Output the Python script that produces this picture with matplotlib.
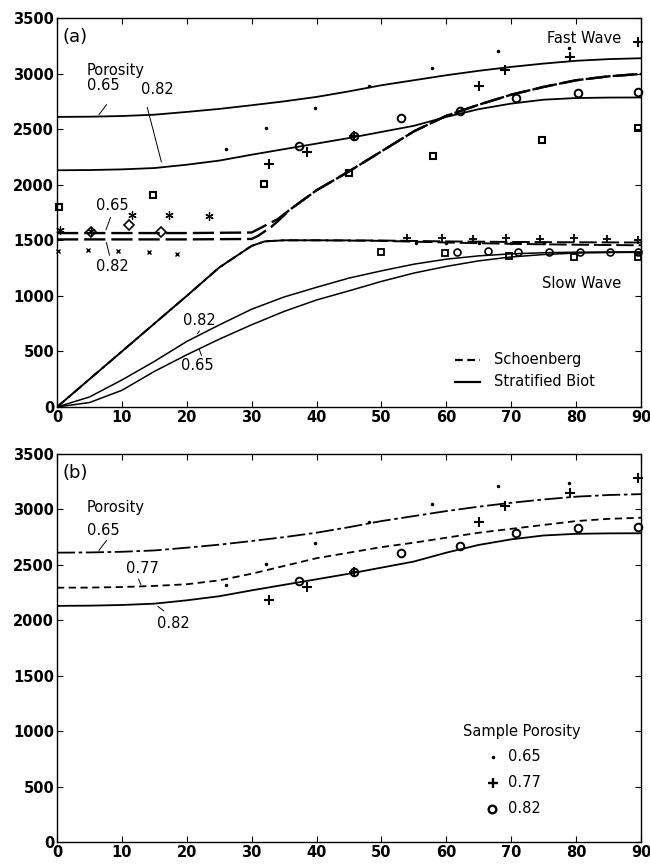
import matplotlib
matplotlib.use("Agg")
import matplotlib.pyplot as plt
import numpy as np

plt.rcParams['font.family'] = ['DejaVu Sans']

# ---------------- data ----------------
ang = [0, 5, 10, 15, 20, 25, 30, 35, 40, 45, 50, 55, 60, 65, 70, 75, 80, 85, 90]
biot_fast_065 = [2610, 2612, 2618, 2630, 2655, 2682, 2715, 2750, 2790, 2840, 2895, 2940, 2985, 3025, 3060, 3090, 3115, 3130, 3138]
biot_fast_082 = [2130, 2132, 2138, 2150, 2180, 2217, 2270, 2320, 2370, 2420, 2475, 2530, 2610, 2680, 2730, 2765, 2780, 2784, 2785]
biot_fast_077 = [2294, 2295, 2300, 2310, 2325, 2360, 2420, 2490, 2560, 2610, 2660, 2700, 2745, 2790, 2825, 2860, 2895, 2915, 2925]
biot_slow_082 = [0, 90, 243, 410, 590, 738, 880, 990, 1077, 1160, 1225, 1285, 1330, 1360, 1378, 1388, 1393, 1395, 1396]
biot_slow_065 = [0, 40, 150, 320, 470, 610, 740, 860, 963, 1045, 1130, 1205, 1265, 1315, 1350, 1372, 1385, 1390, 1392]

sch_ang = [0, 10, 20, 30, 31, 33, 34, 36, 40, 45, 50, 55, 60, 65, 70, 75, 80, 85, 90]
sch_fast_065 = [1565, 1565, 1565, 1570, 1600, 1660, 1690, 1780, 1950, 2120, 2300, 2480, 2620, 2720, 2810, 2880, 2940, 2975, 2997]
sch_fast_082 = [1508, 1508, 1508, 1512, 1540, 1620, 1670, 1780, 1950, 2120, 2300, 2480, 2620, 2720, 2810, 2880, 2940, 2975, 2997]
sch_slow_ang = [0, 10, 20, 25, 30, 32, 35, 40, 50, 60, 70, 80, 90]
sch_slow_065 = [0, 500, 1000, 1255, 1450, 1490, 1500, 1500, 1498, 1490, 1485, 1482, 1480]
sch_slow_082 = [0, 500, 1000, 1255, 1450, 1490, 1500, 1500, 1495, 1480, 1468, 1460, 1455]

# measured data (fast)
dot_x = [26, 32.2, 39.8, 48.1, 57.8, 67.9, 78.9]
dot_y = [2319, 2508, 2694, 2889, 3048, 3207, 3234]
plus_x = [32.6, 38.6, 45.8, 65, 69.1, 79.1, 89.6]
plus_y = [2184, 2298, 2439, 2889, 3033, 3147, 3288]
circ_x = [37.3, 45.8, 53, 62.1, 70.8, 80.3, 89.6]
circ_y = [2352, 2439, 2604, 2667, 2784, 2829, 2838]
sq_fast_x = [0.3, 14.8, 31.9, 45, 57.9, 74.8, 89.6]
sq_fast_y = [1803, 1908, 2007, 2103, 2259, 2403, 2508]

# measured data (slow / low angle)
sq_slow_x = [50, 59.8, 69.7, 79.7, 89.6]
sq_slow_y = [1398, 1383, 1359, 1353, 1353]
circ_slow_x = [61.7, 66.4, 71.1, 75.8, 80.6, 85.2, 89.6]
circ_slow_y = [1398, 1407, 1392, 1398, 1398, 1398, 1392]
plus_slow_x = [53.9, 59.4, 64.1, 69.2, 74.4, 79.6, 84.7, 89.6]
plus_slow_y = [1518, 1518, 1512, 1518, 1509, 1518, 1512, 1500]
dot_slow_x = [55.4, 60, 65, 70, 75]
dot_slow_y = [1473, 1478, 1480, 1478, 1480]
xm_x = [0.2, 4.8, 9.4, 14.2, 18.5]
xm_y = [1407, 1410, 1407, 1398, 1377]
ast_x = [0.4, 5.3, 11.6, 17.3, 23.5]
ast_y = [1593, 1587, 1725, 1725, 1722]
dia_x = [5.2, 11.1, 16]
dia_y = [1575, 1638, 1575]

xticks = [0, 10, 20, 30, 40, 50, 60, 70, 80, 90]
yticks = [0, 500, 1000, 1500, 2000, 2500, 3000, 3500]

# ---------------- figure ----------------
fig = plt.figure(figsize=(6.5, 8.65), dpi=100)
L, W = 57/650, 584/650
axa = fig.add_axes([L, 1-407/865, W, 389/865])
axb = fig.add_axes([L, 1-842/865, W, 388/865])


def style(ax):
    ax.set_xlim(0, 90)
    ax.set_ylim(0, 3500)
    ax.set_xticks(xticks)
    ax.set_yticks(yticks)
    ax.tick_params(direction='in', top=True, right=True, length=4, width=0.8,
                   labelsize=10.5, pad=2)
    for lab in ax.get_xticklabels() + ax.get_yticklabels():
        lab.set_fontweight('bold')
    for s in ax.spines.values():
        s.set_linewidth(1.0)


style(axa)
style(axb)

ms = dict(color='black', linestyle='none', clip_on=False)
k = 'black'

# ---- panel (a) ----
axa.plot(ang, biot_fast_065, color=k, lw=1.3)
axa.plot(ang, biot_fast_082, color=k, lw=1.3)
axa.plot(ang, biot_slow_065, color=k, lw=1.1)
axa.plot(ang, biot_slow_082, color=k, lw=1.1)
dsh = (0, (9, 2.5))
axa.plot(sch_ang, sch_fast_065, color=k, lw=1.7, linestyle=dsh)
axa.plot(sch_ang, sch_fast_082, color=k, lw=1.7, linestyle=dsh)
axa.plot(sch_slow_ang, sch_slow_065, color=k, lw=1.4, linestyle=dsh)
axa.plot(sch_slow_ang, sch_slow_082, color=k, lw=1.4, linestyle=(4, (9, 2.5)))

axa.plot(dot_x, dot_y, marker='.', markersize=3, **ms)
axa.plot(plus_x, plus_y, marker='+', markersize=6.5, mew=1.5, **ms)
axa.plot(circ_x, circ_y, marker='o', markersize=5.5, mfc='none', mew=1.4, **ms)
axa.plot(sq_fast_x, sq_fast_y, marker='s', markersize=5, mfc='none', mew=1.5, **ms)
axa.plot(sq_slow_x, sq_slow_y, marker='s', markersize=5, mfc='none', mew=1.3, **ms)
axa.plot(circ_slow_x, circ_slow_y, marker='o', markersize=5, mfc='none', mew=1.2, **ms)
axa.plot(plus_slow_x, plus_slow_y, marker='+', markersize=6, mew=1.3, **ms)
axa.plot(dot_slow_x, dot_slow_y, marker='.', markersize=3, **ms)
axa.plot(xm_x, xm_y, marker='x', markersize=3.5, mew=1.0, **ms)
axa.plot(ast_x, ast_y, marker=(6, 2, 0), markersize=6, mew=0.9, **ms)
axa.plot(dia_x, dia_y, marker='D', markersize=5.5, mfc='none', mew=1.2, **ms)

fs = 10.5
axa.text(0.9, 3330, '(a)', fontsize=13, va='center', ha='left')
axa.text(4.6, 3030, 'Porosity', fontsize=fs, va='center', ha='left')
axa.text(7.2, 2895, '0.65', fontsize=fs, va='center', ha='center')
axa.text(15.4, 2860, '0.82', fontsize=fs, va='center', ha='center')
axa.annotate('', xy=(6.2, 2610), xytext=(7.9, 2740),
             arrowprops=dict(arrowstyle='-', lw=0.7, color=k))
axa.annotate('', xy=(16.2, 2180), xytext=(13.8, 2720),
             arrowprops=dict(arrowstyle='-', lw=0.7, color=k))
axa.text(87.0, 3320, 'Fast Wave', fontsize=fs, va='center', ha='right')
axa.text(8.6, 1810, '0.65', fontsize=fs, va='center', ha='center')
axa.annotate('', xy=(7.4, 1570), xytext=(8.4, 1730),
             arrowprops=dict(arrowstyle='-', lw=0.7, color=k))
axa.text(8.5, 1265, '0.82', fontsize=fs, va='center', ha='center')
axa.annotate('', xy=(7.5, 1505), xytext=(8.2, 1340),
             arrowprops=dict(arrowstyle='-', lw=0.7, color=k))
axa.text(21.9, 780, '0.82', fontsize=fs, va='center', ha='center')
axa.annotate('', xy=(21.4, 640), xytext=(22.2, 705),
             arrowprops=dict(arrowstyle='-', lw=0.7, color=k))
axa.text(21.7, 370, '0.65', fontsize=fs, va='center', ha='center')
axa.annotate('', xy=(21.8, 540), xytext=(22.4, 440),
             arrowprops=dict(arrowstyle='-', lw=0.7, color=k))
axa.text(87.0, 1110, 'Slow Wave', fontsize=fs, va='center', ha='right')

# legend (a)
axa.plot([61.3, 65.2], [425, 425], color=k, lw=1.6, linestyle=(0, (3.5, 2)))
axa.plot([61.3, 65.2], [225, 225], color=k, lw=1.6)
axa.text(67.4, 425, 'Schoenberg', fontsize=fs, va='center', ha='left')
axa.text(67.4, 225, 'Stratified Biot', fontsize=fs, va='center', ha='left')

# ---- panel (b) ----
axb.plot(ang, biot_fast_065, color=k, lw=1.3, linestyle=(0, (10, 2, 2, 2)))
axb.plot(ang, biot_fast_077, color=k, lw=1.3, linestyle=(0, (4, 2.5)))
axb.plot(ang, biot_fast_082, color=k, lw=1.3)
axb.plot(dot_x, dot_y, marker='.', markersize=3, **ms)
axb.plot(plus_x, plus_y, marker='+', markersize=6.5, mew=1.5, **ms)
axb.plot(circ_x, circ_y, marker='o', markersize=5.5, mfc='none', mew=1.4, **ms)

axb.text(0.9, 3330, '(b)', fontsize=13, va='center', ha='left')
axb.text(4.6, 3020, 'Porosity', fontsize=fs, va='center', ha='left')
axb.text(7.2, 2810, '0.65', fontsize=fs, va='center', ha='center')
axb.annotate('', xy=(6.2, 2610), xytext=(7.9, 2740),
             arrowprops=dict(arrowstyle='-', lw=0.7, color=k))
axb.text(13.2, 2470, '0.77', fontsize=fs, va='center', ha='center')
axb.annotate('', xy=(13.1, 2298), xytext=(12.4, 2395),
             arrowprops=dict(arrowstyle='-', lw=0.7, color=k))
axb.text(18.0, 1975, '0.82', fontsize=fs, va='center', ha='center')
axb.annotate('', xy=(15.2, 2140), xytext=(16.8, 2070),
             arrowprops=dict(arrowstyle='-', lw=0.7, color=k))

axb.text(71.6, 1000, 'Sample Porosity', fontsize=fs, va='center', ha='center')
axb.plot([67.2], [770], marker='.', markersize=3, **ms)
axb.plot([67.2], [535], marker='+', markersize=6.5, mew=1.7, **ms)
axb.plot([67.0], [300], marker='o', markersize=5.5, mfc='none', mew=1.7, **ms)
axb.text(69.5, 770, '0.65', fontsize=fs, va='center', ha='left')
axb.text(69.5, 535, '0.77', fontsize=fs, va='center', ha='left')
axb.text(69.5, 300, '0.82', fontsize=fs, va='center', ha='left')

fig.savefig('out.png', dpi=100)
